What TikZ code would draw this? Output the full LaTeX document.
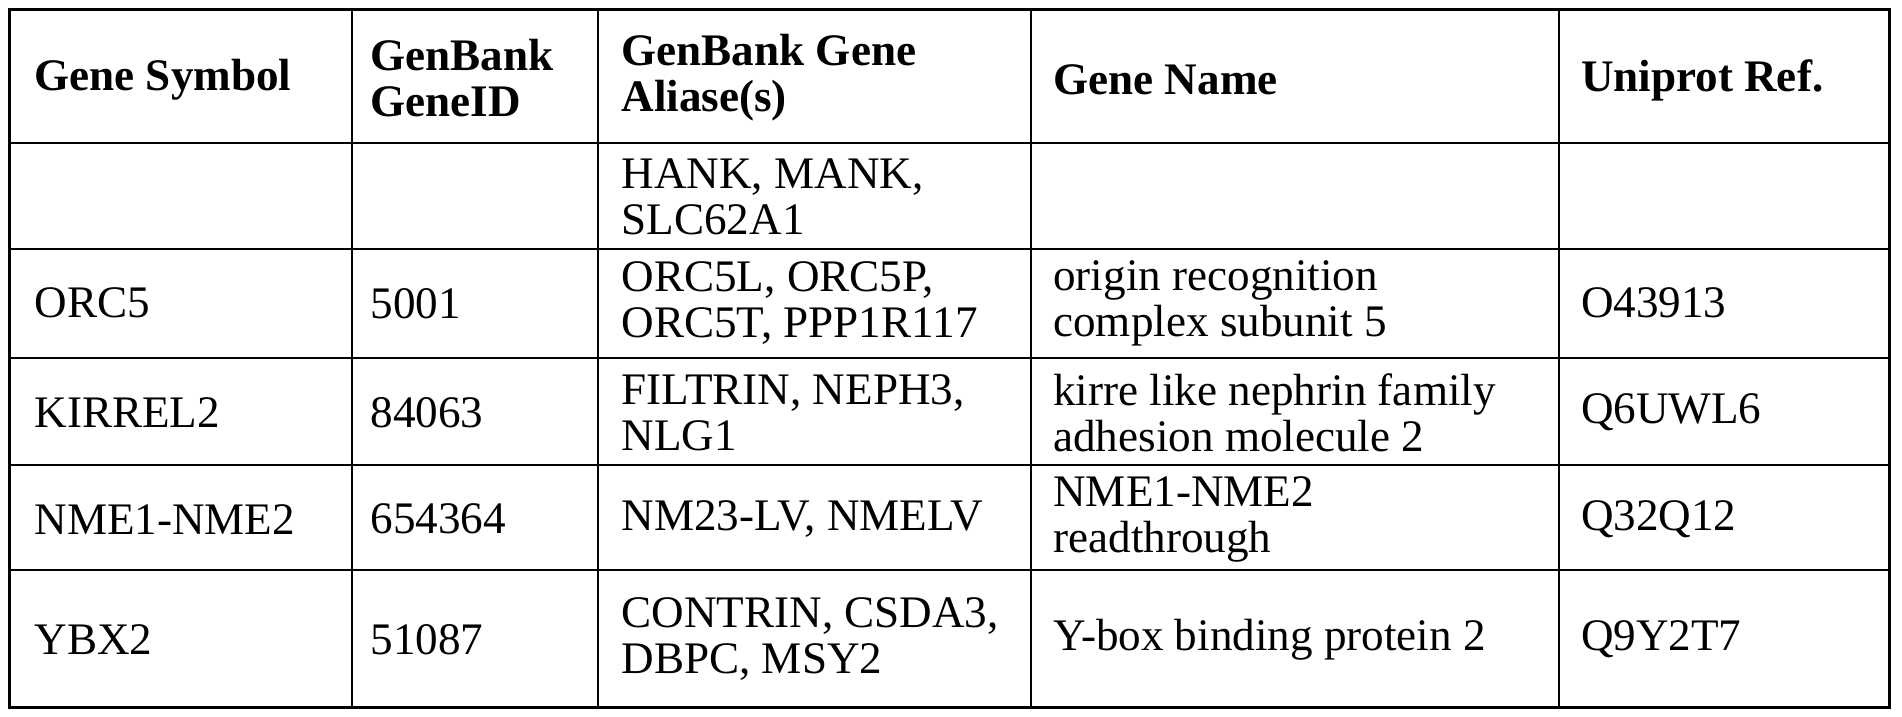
\documentclass[tikz,border=0pt]{standalone}
\usepackage{fontspec}
\setmainfont{Liberation Serif}
\begin{document}
\begin{tikzpicture}[x=0.5pt,y=-0.5pt,
  cell/.style={anchor=west,align=left,font=\fontsize{18.6}{19}\selectfont,inner sep=0pt},
  head/.style={cell,font=\fontsize{18.6}{19}\selectfont\bfseries}]
\useasboundingbox (0,0) rectangle (1568,591);
\draw[line width=1.2pt] (8,8) rectangle (1558,583);
\foreach \x in {290,493,850,1285} \draw[line width=0.8pt] (\x,8) -- (\x,583);
\foreach \y in {118,205,295,383,470} \draw[line width=0.8pt] (8,\y) -- (1558,\y);
\node[head] (h1) at (28,66) {Gene Symbol};
\node[head] (h2) at (305,64) {GenBank\\GeneID};
\node[head] (h3) at (512,64) {GenBank Gene\\Aliase(s)};
\node[head] (h4) at (868,66) {Gene Name};
\node[head] (h5) at (1303,66) {Uniprot Ref.};
\node[cell] (r0c3) at (512,162) {HANK, MANK,\\SLC62A1};
\node[cell] (r1c1) at (28,250) {ORC5};
\node[cell] (r1c2) at (305,250) {5001};
\node[cell] (r1c3) at (512,250) {ORC5L, ORC5P,\\ORC5T, PPP1R117};
\node[cell] (r1c4) at (868,250) {origin recognition\\complex subunit 5};
\node[cell] (r1c5) at (1303,250) {O43913};
\node[cell] (r2c1) at (28,340) {KIRREL2};
\node[cell] (r2c2) at (305,340) {84063};
\node[cell] (r2c3) at (512,340) {FILTRIN, NEPH3,\\NLG1};
\node[cell] (r2c4) at (868,340) {kirre like nephrin family\\adhesion molecule 2};
\node[cell] (r2c5) at (1303,340) {Q6UWL6};
\node[cell] (r3c1) at (28,428) {NME1-NME2};
\node[cell] (r3c2) at (305,428) {654364};
\node[cell] (r3c3) at (512,428) {NM23-LV, NMELV};
\node[cell] (r3c4) at (868,428) {NME1-NME2\\readthrough};
\node[cell] (r3c5) at (1303,428) {Q32Q12};
\node[cell] (r4c1) at (28,527) {YBX2};
\node[cell] (r4c2) at (305,527) {51087};
\node[cell] (r4c3) at (512,527) {CONTRIN, CSDA3,\\DBPC, MSY2};
\node[cell] (r4c4) at (868,527) {Y-box binding protein 2};
\node[cell] (r4c5) at (1303,527) {Q9Y2T7};
\end{tikzpicture}
\end{document}
